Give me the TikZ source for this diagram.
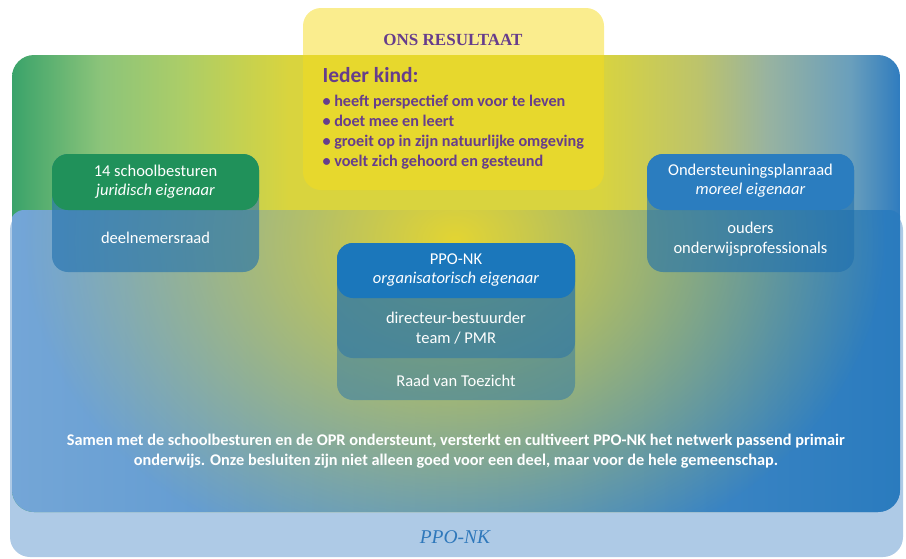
\documentclass[tikz,border=0pt]{standalone}
\usepackage{fontspec}
\setmainfont{Carlito}
\newfontfamily\titleserif{Liberation Serif}
\usetikzlibrary{fadings}
\definecolor{bandgreen}{HTML}{3AA36A}
\definecolor{bandlgreen}{HTML}{8CC47A}
\definecolor{bandlime}{HTML}{ABCD68}
\definecolor{bandyellow}{HTML}{D9D43E}
\definecolor{bandolive}{HTML}{BCC36C}
\definecolor{bandteal}{HTML}{98B3A0}
\definecolor{bandsky}{HTML}{6A9FBC}
\definecolor{bandblue}{HTML}{2F7CBF}
\definecolor{lowleft}{HTML}{74A6D7}
\definecolor{lowmid}{HTML}{5291CB}
\definecolor{lowright}{HTML}{2A7BBE}
\definecolor{glowyellow}{HTML}{E3D533}
\definecolor{stripblue}{HTML}{AECAE6}
\definecolor{resultyellow}{HTML}{F6DC1E}
\definecolor{resultpurple}{HTML}{663D8C}
\definecolor{ownergreen}{HTML}{20915A}
\definecolor{ownerblue}{HTML}{2B7DBF}
\definecolor{orgblue}{HTML}{1B77BB}
\definecolor{layerblue}{HTML}{1E6FAE}
\definecolor{ppoblue}{HTML}{2F78BB}
\pgfdeclarehorizontalshading{topband}{100bp}{color(0bp)=(bandgreen); color(25bp)=(bandgreen);
  color(30bp)=(bandlgreen); color(34.5bp)=(bandlime); color(40.6bp)=(bandyellow);
  color(58bp)=(bandyellow); color(63.7bp)=(bandolive); color(67.5bp)=(bandteal);
  color(72.2bp)=(bandsky); color(75bp)=(bandblue); color(100bp)=(bandblue)}
\tikzfading[name=glowfade,inner color=transparent!0,outer color=transparent!100]
\begin{document}
\begin{tikzpicture}[x=1pt,y=-1pt,
    layer/.style={fill=layerblue,fill opacity=0.6,rounded corners=16pt},
    headtext/.style={text=white,font=\fontsize{16.5}{19}\selectfont,align=center},
    bodytext/.style={text=white,font=\fontsize{16.5}{20}\selectfont,align=center}]
\useasboundingbox (0,0) rectangle (906,558);
% achtergrond
\fill[stripblue,rounded corners=20pt] (10,210) rectangle (903,557);
\begin{scope}
  \clip[rounded corners=22pt] (12,55) rectangle (900,512);
  \shade[shading=topband] (12,55) rectangle (900,512);
  \begin{scope}
    \clip[rounded corners=14pt] (10,210) rectangle (903,557);
    \shade[left color=lowleft,middle color=lowmid,right color=lowright] (10,210) rectangle (903,557);
    \fill[glowyellow,path fading=glowfade] (455,240) ellipse [x radius=430, y radius=340];
  \end{scope}
\end{scope}
\node[ppoblue,font=\titleserif\itshape\fontsize{19.5}{19.5}\selectfont] (ppo) at (455,537) {PPO-NK};
% ons resultaat
\fill[resultyellow,fill opacity=0.5,rounded corners=18pt] (303,8) rectangle (604,190);
\node[resultpurple,font=\titleserif\bfseries\fontsize{17}{17}\selectfont] (result) at (453,40) {ONS RESULTAAT};
\node[resultpurple,font=\bfseries\fontsize{21.5}{21.5}\selectfont,anchor=west] (kind) at (319,75) {Ieder kind:};
\node[resultpurple,font=\bfseries\fontsize{16.2}{19.8}\selectfont,anchor=west,align=left] (doelen) at (319,132)
  {• heeft perspectief om voor te leven\\ • doet mee en leert\\
   • groeit op in zijn natuurlijke omgeving\\ • voelt zich gehoord en gesteund};
% schoolbesturen
\fill[layer] (52,154) rectangle (259,272);
\fill[ownergreen,rounded corners=16pt] (52,154) rectangle (259,210);
\node[headtext] (besturen) at (155.5,181.5) {14 schoolbesturen\\ \itshape juridisch eigenaar};
\node[bodytext] (deelnemers) at (155.5,238) {deelnemersraad};
% ondersteuningsplanraad
\fill[layer] (647,154) rectangle (854,272);
\fill[ownerblue,rounded corners=16pt] (647,154) rectangle (854,210);
\node[headtext] (opr) at (750.5,180.5) {Ondersteuningsplanraad\\ \itshape moreel eigenaar};
\node[bodytext] (ouders) at (750.5,239) {ouders\\ onderwijsprofessionals};
% ppo-nk
\fill[layer,fill opacity=0.45] (337,243) rectangle (575,400);
\fill[layer,fill opacity=0.45] (337,243) rectangle (575,358);
\fill[orgblue,rounded corners=16pt] (337,243) rectangle (575,298);
\node[headtext] (org) at (456,270.5) {PPO-NK\\ \itshape organisatorisch eigenaar};
\node[bodytext] (directie) at (456,328.5) {directeur-bestuurder\\ team / PMR};
\node[bodytext] (rvt) at (456,381) {Raad van Toezicht};
% samen
\node[text=white,font=\bfseries\fontsize{16.3}{20}\selectfont,align=center] (samen) at (456,451)
  {Samen met de schoolbesturen en de OPR ondersteunt, versterkt en cultiveert PPO-NK het netwerk passend primair\\
   onderwijs. Onze besluiten zijn niet alleen goed voor een deel, maar voor de hele gemeenschap.};
\end{tikzpicture}
\end{document}
